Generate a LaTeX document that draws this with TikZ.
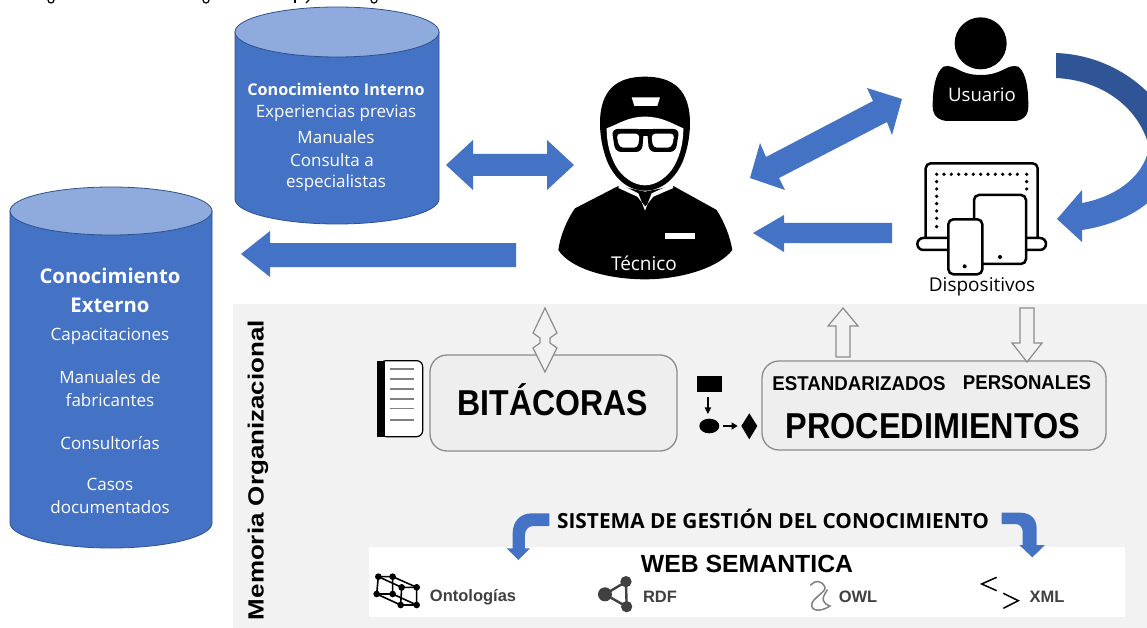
\documentclass[tikz,border=0pt]{standalone}
\usepackage{fontspec}
\setmainfont{Open Sans}
\newfontfamily\arialf{Liberation Sans}
\usetikzlibrary{calc}
\definecolor{cylblue}{HTML}{4472C4}
\definecolor{cyltop}{HTML}{8FAADC}
\definecolor{cyledge}{HTML}{2F528F}
\definecolor{arrblue}{HTML}{4472C4}
\definecolor{arrdark}{HTML}{2F5597}
\definecolor{panel}{HTML}{F2F2F2}
\definecolor{boxfill}{HTML}{EEEEEE}
\definecolor{boxedge}{HTML}{8C8C8C}
\definecolor{icongray}{HTML}{404040}
\tikzset{
  cylbody/.style={fill=cylblue,draw=cyledge,line width=0.8pt},
  cyllid/.style={fill=cyltop,draw=cyledge,line width=0.8pt},
  blockarrow/.style={fill=arrblue,draw=none},
  outlinearrow/.style={fill=panel,draw=boxedge,line width=1.2pt,line join=miter},
  procbox/.style={draw=boxedge,fill=boxfill,line width=1.3pt,rounded corners=17pt},
  cyltext/.style={text=white,align=center,inner sep=0pt,font=\fontsize{17}{20}\selectfont},
  cylhead/.style={text=white,align=center,inner sep=0pt,font=\fontsize{16.2}{20}\selectfont\bfseries},
  icontext/.style={inner sep=0pt,font=\fontsize{19}{22}\selectfont},
  webtext/.style={inner sep=0pt,text=icongray,font=\arialf\bfseries\fontsize{16.5}{18}\selectfont},
  zoomA/.style={shift={(540pt,-60pt)},x=0.3333pt,y=-0.3333pt},
  zoomB/.style={shift={(880pt,-10pt)},x=0.3333pt,y=-0.3333pt},
  zoomC/.style={shift={(370pt,-300pt)},x=0.3333pt,y=-0.3333pt},
  zoomD/.style={shift={(360pt,-500pt)},x=0.3333pt,y=-0.3333pt},
  zoomE/.style={shift={(740pt,-500pt)},x=0.3333pt,y=-0.3333pt},
}
\begin{document}
\begin{tikzpicture}[x=1pt,y=-1pt]
\useasboundingbox (0,0) rectangle (1147,628);
\clip (0,0) rectangle (1147,628);
\fill[white] (0,0) rectangle (1147,628);

% clipped title descenders
\draw[line width=1.2pt] (48,0) .. controls (48,4) and (54,4) .. (54,0);
\draw[line width=1.2pt] (203,0) .. controls (203,4) and (209,4) .. (209,0);
\draw[line width=1.2pt] (295,0) -- (295,3);
\draw[line width=1.2pt] (309,0) -- (306,3);
\draw[line width=1.2pt] (371,0) .. controls (371,4) and (377,4) .. (377,0);

% panels
\fill[panel] (233,304) rectangle (1147,628);
\fill[white] (369,547) rectangle (1125,617);

% cylinder interno
\draw[cylbody] (235,32) -- (235,199) arc[start angle=180,end angle=0,x radius=102,y radius=25] -- (439,32) -- cycle;
\draw[cyllid] (337,32) ellipse[x radius=102,y radius=25];
\node[cylhead] (ci1) at (336,89) {Conocimiento Interno};
\node[cyltext] (ci2) at (336,113) {Experiencias previas};
\node[cyltext] (ci3) at (336,137) {Manuales};
\node[cyltext] (ci4) at (332,160) {Consulta a};
\node[cyltext] (ci5) at (336,183) {especialistas};

% cylinder externo
\draw[cylbody] (10,211) -- (10,523) arc[start angle=180,end angle=0,x radius=101,y radius=25] -- (212,211) -- cycle;
\draw[cyllid] (111,211) ellipse[x radius=101,y radius=24];
\node[cylhead,font=\fontsize{20.3}{24}\selectfont\bfseries] (ce1) at (110,276) {Conocimiento};
\node[cylhead,font=\fontsize{20.3}{24}\selectfont\bfseries] (ce2) at (110,305) {Externo};
\node[cyltext] (ce3) at (110,336) {Capacitaciones};
\node[cyltext] (ce4) at (110,377) {Manuales de};
\node[cyltext] (ce5) at (110,400) {fabricantes};
\node[cyltext] (ce6) at (110,443) {Consultorías};
\node[cyltext] (ce7) at (110,484) {Casos};
\node[cyltext] (ce8) at (110,507) {documentados};

% block arrows
\fill[blockarrow] (446,165) -- (473,140) -- (473,154) -- (547,154) -- (547,140) -- (574,165) -- (547,190) -- (547,176) -- (473,176) -- (473,190) -- cycle;
\fill[blockarrow] (241,254) -- (270,231) -- (270,243) -- (516,243) -- (516,267) -- (270,267) -- (270,277) -- cycle;
\fill[blockarrow] (753,233) -- (784,215) -- (784,223) -- (892,223) -- (892,243) -- (784,243) -- (784,252) -- cycle;
\fill[blockarrow] (750,178) -- (760,143) -- (766,157) -- (873,101) -- (867,88) -- (902,99) -- (892,135) -- (887,122) -- (779,178) -- (785,190) -- cycle;

% curved arrow usuario -> dispositivos
\fill[arrdark] (1056,53) .. controls (1115,55) and (1165,95) .. (1175,140) -- (1147,140) .. controls (1135,105) and (1100,80) .. (1056,78) -- cycle;
\fill[arrblue] (1175,139) .. controls (1180,190) and (1135,222) .. (1082,230) -- (1082,242) -- (1057,219) -- (1082,190) -- (1082,203) .. controls (1115,197) and (1140,178) .. (1147,155) -- (1147,139) -- cycle;

% tecnico
\begin{scope}[zoomA]
\fill[black] (235,378) -- (315,395) -- (400,378) -- (530,450) .. controls (555,490) and (570,530) .. (577,570) .. controls (540,620) and (430,658) .. (315,658) .. controls (200,658) and (90,625) .. (55,570) .. controls (60,530) and (80,480) .. (105,445) -- cycle;
\fill[white] (238,372) -- (295,400) -- (315,452) -- (335,400) -- (397,372) -- (400,384) -- (340,410) -- (316,440) -- (292,410) -- (235,384) -- cycle;
\fill[black] (180,190) .. controls (180,90) and (230,50) .. (315,50) .. controls (400,50) and (450,90) .. (450,190) .. controls (450,220) and (445,260) .. (430,300) .. controls (410,350) and (370,392) .. (315,392) .. controls (260,392) and (220,350) .. (200,300) .. controls (185,260) and (180,220) .. (180,190) -- cycle;
\fill[white] (200,205) .. controls (240,190) and (265,170) .. (315,170) .. controls (365,170) and (395,190) .. (430,205) .. controls (430,260) and (415,300) .. (395,330) .. controls (370,362) and (340,376) .. (315,376) .. controls (290,376) and (260,362) .. (235,330) .. controls (215,300) and (200,260) .. (200,205) -- cycle;
\fill[white] (275,112) -- (360,112) -- (352,138) -- (283,138) -- cycle;
\fill[black,rounded corners=6pt] (215,207) -- (312,207) -- (306,276) -- (226,276) -- cycle;
\fill[black,rounded corners=6pt] (418,207) -- (321,207) -- (327,276) -- (407,276) -- cycle;
\fill[black] (300,207) rectangle (335,228);
\fill[white,rounded corners=4pt] (229,221) -- (299,221) -- (294,263) -- (238,263) -- cycle;
\fill[white,rounded corners=4pt] (404,221) -- (334,221) -- (339,263) -- (395,263) -- cycle;
\fill[white] (375,520) rectangle (465,537);
\end{scope}
\node[inner sep=0pt,text=white,font=\fontsize{19}{22}\selectfont] (tec) at (644,263) {Técnico};

% usuario
\begin{scope}[zoomB]
\fill[black] (190,170) .. controls (225,160) and (235,195) .. (302,195) .. controls (370,195) and (380,160) .. (415,170) .. controls (440,190) and (445,240) .. (445,290) .. controls (445,320) and (425,333) .. (400,333) -- (205,333) .. controls (180,333) and (158,320) .. (158,290) .. controls (158,240) and (165,190) .. (190,170) -- cycle;
\fill[black] (302,100) circle[radius=78];
\end{scope}
\node[inner sep=0pt,text=white,font=\fontsize{18.6}{22}\selectfont] (usr) at (982,95) {Usuario};

% dispositivos
\begin{scope}[zoomB]
\draw[black,line width=2.5pt,rounded corners=5pt] (137,682) -- (137,460) -- (473,460) -- (473,682);
\draw[black,line width=2.5pt,fill=white,rounded corners=6pt] (112,684) rectangle (498,720);
\foreach \px in {170,192,214,236,258,280,302,324,346,368,390,412,440}
  \fill[black] (\px,493) circle[radius=5.5];
\foreach \py in {515,537,559,581,603,625,650}
  \fill[black] (170,\py) circle[radius=5.5];
\fill[black] (440,515) circle[radius=5.5];
\fill[black] (440,537) circle[radius=5.5];
\draw[black,line width=2.5pt,fill=white,rounded corners=5pt] (282,555) rectangle (438,762);
\fill[black] (360,741) circle[radius=6];
\draw[black,line width=2.5pt,fill=white,rounded corners=5pt] (205,628) rectangle (307,793);
\fill[black] (254,769) circle[radius=6];
\end{scope}
\node[icontext] (dis) at (982,287) {Dispositivos};

% vertical label
\node[rotate=90,inner sep=0pt,font=\arialf\bfseries\fontsize{22}{24}\selectfont] (mem) at (258,470) {\scalebox{1.18}[1]{Memoria Organizacional}};

% bitacoras
\node[procbox,minimum width=247pt,minimum height=96pt,inner sep=0pt] (bit) at (553.5,403) {};
\node[inner sep=0pt,font=\arialf\bfseries\fontsize{36}{38}\selectfont] (bitt) at (553,400) {\scalebox{0.89}[1]{BITÁCORAS}};

% double outline arrow
\draw[outlinearrow] (545,308) -- (533,333) -- (540,338) -- (540,343) -- (533,348) -- (545,372) -- (557,348) -- (550,343) -- (550,338) -- (557,333) -- cycle;

% notebook and flow icon
\begin{scope}[zoomC]
\draw[black,line width=1.2pt,fill=white,rounded corners=6pt] (30,182) -- (158,182) -- (158,410) -- (30,410) -- cycle;
\fill[black] (22,182) rectangle (45,410);
\foreach \ly in {207,237,267,297,326,360}
  \draw[gray,line width=1.3pt] (60,\ly) -- (132,\ly);
\fill[black] (980,228) rectangle (1057,277);
\draw[black,line width=1.5pt] (1014,292) -- (1014,325);
\fill[black] (1004,322) -- (1024,322) -- (1014,342) -- cycle;
\fill[black] (1018,378) ellipse[x radius=30,y radius=22];
\draw[black,line width=1.5pt] (1060,378) -- (1088,378);
\fill[black] (1085,367) -- (1103,378) -- (1085,389) -- cycle;
\fill[black] (1138,340) -- (1162,378) -- (1138,418) -- (1114,378) -- cycle;
\end{scope}

% procedimientos
\node[procbox,minimum width=344pt,minimum height=89pt,inner sep=0pt] (pro) at (934,405.5) {};
\node[inner sep=0pt,font=\arialf\bfseries\fontsize{20}{22}\selectfont] (est) at (859,384) {\scalebox{0.935}[1]{ESTANDARIZADOS}};
\node[inner sep=0pt,font=\arialf\bfseries\fontsize{20}{22}\selectfont] (per) at (1027,383) {\scalebox{0.93}[1]{PERSONALES}};
\node[inner sep=0pt,font=\arialf\bfseries\fontsize{36}{38}\selectfont] (prot) at (933,426) {\scalebox{0.9}[1]{PROCEDIMIENTOS}};

% outline arrows
\draw[outlinearrow] (843,308) -- (828,326) -- (836,326) -- (836,357) -- (850,357) -- (850,326) -- (858,326) -- cycle;
\draw[outlinearrow] (1027,362) -- (1012,343) -- (1020,343) -- (1020,308) -- (1034,308) -- (1034,343) -- (1042,343) -- cycle;

% sistema
\node[inner sep=0pt,font=\fontsize{20.8}{24}\selectfont\bfseries] (sgc) at (773,519) {SISTEMA DE GESTIÓN DEL CONOCIMIENTO};
\begin{scope}[zoomD]
\fill[blockarrow] (568,40) -- (568,78) -- (520,78) .. controls (505,78) and (495,90) .. (495,105) -- (495,145) -- (510,145) -- (475,180) -- (440,145) -- (458,145) -- (458,100) .. controls (458,65) and (480,40) .. (515,40) -- cycle;
\end{scope}
\begin{scope}[zoomE]
\fill[blockarrow] (785,38) -- (785,72) -- (825,72) .. controls (840,72) and (848,82) .. (848,95) -- (848,135) -- (838,135) -- (877,172) -- (915,135) -- (890,135) -- (890,85) .. controls (890,55) and (870,38) .. (840,38) -- cycle;
\end{scope}

% web semantica
\node[inner sep=0pt,font=\arialf\bfseries\fontsize{24.8}{26}\selectfont] (web) at (747,564) {WEB SEMANTICA};
\node[webtext] (ont) at (473,597) {Ontologías};
\node[webtext] (rdf) at (660,597) {RDF};
\node[webtext] (owl) at (858,597) {OWL};
\node[webtext] (xml) at (1047,597) {XML};

% ontology icon
\begin{scope}[zoomD]
\draw[black,line width=1.6pt] (55,230) -- (98,230) -- (170,262) -- (170,315) -- (122,315) -- (50,282) -- cycle;
\draw[black,line width=1.6pt] (98,230) -- (98,282) -- (170,315);
\draw[black,line width=1.6pt] (50,282) -- (98,282);
\draw[black,line width=1.6pt] (55,230) -- (125,262) -- (170,262);
\draw[black,line width=1.6pt] (125,262) -- (122,315);
\foreach \ox/\oy in {55/230,98/230,125/262,170/262,50/282,98/282,122/315,170/315}
  \fill[black] (\ox,\oy) circle[radius=10];
% rdf icon
\draw[icongray,line width=2.4pt] (735,283) -- (798,245) -- (800,320) -- cycle;
\fill[icongray] (735,283) circle[radius=21];
\fill[icongray] (798,245) circle[radius=17];
\fill[icongray] (800,320) circle[radius=17];
\end{scope}
% owl and brackets
\begin{scope}[zoomE]
\draw[gray,line width=1.5pt,line cap=round] (212,255) .. controls (225,240) and (245,240) .. (255,262) .. controls (260,275) and (215,295) .. (215,315) .. controls (215,335) and (245,335) .. (270,318) .. controls (250,310) and (240,300) .. (262,270);
\draw[black,line width=1.5pt] (770,232) -- (725,252) -- (770,272);
\draw[black,line width=1.5pt] (790,280) -- (835,302) -- (790,325);
\end{scope}
\end{tikzpicture}
\end{document}
